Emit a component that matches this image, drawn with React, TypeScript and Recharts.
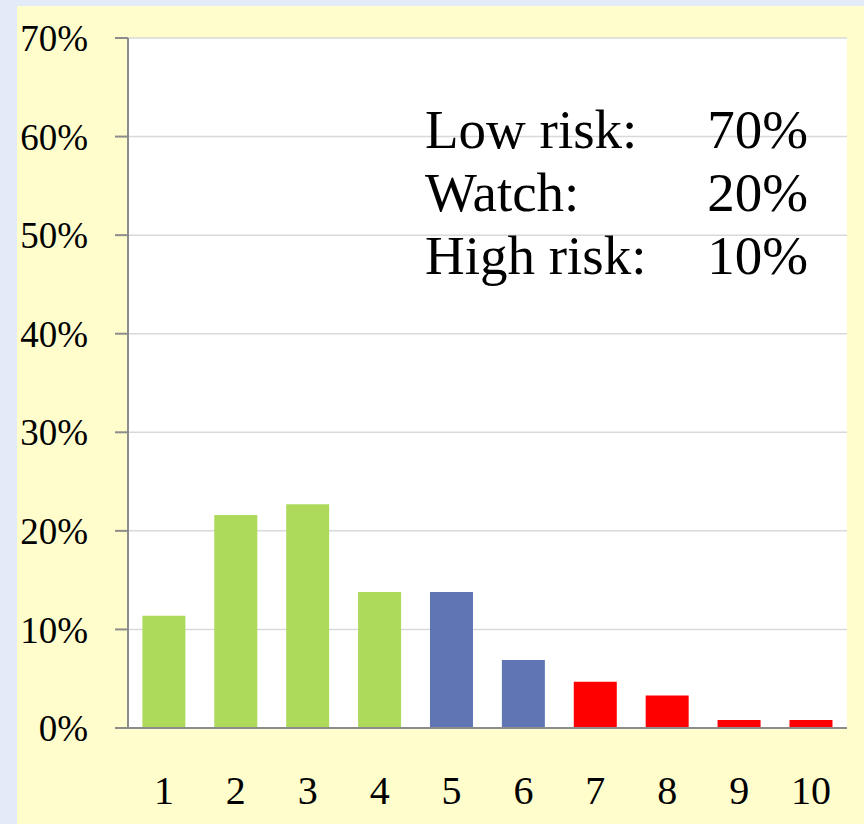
import React from 'react';
import { BarChart, Bar, XAxis, YAxis, CartesianGrid, Cell } from 'recharts';

const categories = ['1', '2', '3', '4', '5', '6', '7', '8', '9', '10'];
const shares = [11.4, 21.6, 22.7, 13.8, 13.8, 6.9, 4.7, 3.3, 0.8, 0.8];
const riskGroups = ['low', 'low', 'low', 'low', 'watch', 'watch', 'high', 'high', 'high', 'high'];
const yTicks = [0, 10, 20, 30, 40, 50, 60, 70];
const summaryLabels = ['Low risk:', 'Watch:', 'High risk:'];
const summaryValues = ['70%', '20%', '10%'];

const groupColors: Record<string, string> = {
  low: '#ADDA5A',
  watch: '#6076B4',
  high: '#FF0000',
};

const data = categories.map((c, i) => ({ name: c, value: shares[i], group: riskGroups[i] }));

const FONT = '"Liberation Serif", "DejaVu Serif", serif';

export default function App() {
  return (
    <div
      style={{
        position: 'absolute',
        left: 0,
        top: 0,
        width: 864,
        height: 824,
        background: '#E2EBF7',
        overflow: 'hidden',
      }}
    >
      <div
        style={{
          position: 'absolute',
          left: 17,
          top: 6,
          width: 847,
          height: 818,
          background: '#FFFDCC',
        }}
      />
      <div style={{ position: 'absolute', left: 0, top: 0 }}>
        <BarChart
          width={864}
          height={824}
          data={data}
          margin={{ top: 38, right: 17, bottom: 0, left: 0 }}
          barCategoryGap="20%"
        >
          <CartesianGrid vertical={false} stroke="#D9D9D9" strokeWidth={1.5} fill="#FFFFFF" />
          <XAxis
            dataKey="name"
            height={96}
            axisLine={{ stroke: '#8C8C8C', strokeWidth: 2 }}
            tickLine={false}
            tickSize={0}
            tickMargin={48}
            tick={{ fill: '#000000', fontSize: 40, fontFamily: FONT }}
            interval={0}
          />
          <YAxis
            width={128}
            domain={[0, 70]}
            ticks={yTicks}
            interval={0}
            tickFormatter={(v: number) => `${v}%`}
            axisLine={{ stroke: '#8C8C8C', strokeWidth: 2 }}
            tickLine={{ stroke: '#8C8C8C', strokeWidth: 2 }}
            tickSize={13}
            tickMargin={27}
            tick={{ fill: '#000000', fontSize: 37, fontFamily: FONT }}
          />
          <Bar dataKey="value" isAnimationActive={false}>
            {data.map((d, i) => (
              <Cell key={i} fill={groupColors[d.group]} />
            ))}
          </Bar>
        </BarChart>
      </div>
      <svg
        width={864}
        height={824}
        style={{ position: 'absolute', left: 0, top: 0, pointerEvents: 'none' }}
      >
        {summaryLabels.map((label, i) => (
          <g key={i}>
            <text x={425} y={148 + i * 63} fontSize={55} fontFamily={FONT} fill="#000000">
              {label}
            </text>
            <text x={808} y={148 + i * 63} fontSize={55} fontFamily={FONT} fill="#000000" textAnchor="end">
              {summaryValues[i]}
            </text>
          </g>
        ))}
      </svg>
    </div>
  );
}
